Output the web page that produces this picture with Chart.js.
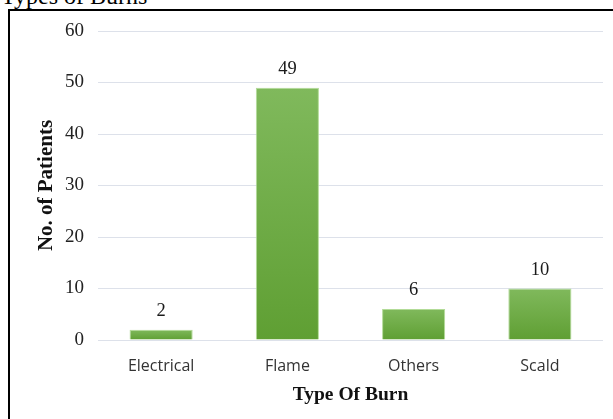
<!DOCTYPE html>
<html>
<head>
<meta charset="utf-8">
<script src="https://cdn.jsdelivr.net/npm/chart.js@4.4.1/dist/chart.umd.min.js"></script>
<style>
  body { margin: 0; background: #fff; width: 613px; height: 419px; overflow: hidden; position: relative; }
  #caption { position: absolute; left: 1px; top: -17px; font: 24px "Liberation Serif", serif; color: #000; white-space: nowrap; }
  #frame { position: absolute; left: 8px; top: 9px; width: 700px; height: 500px; border: 2px solid #000; }
  #wrap { position: absolute; left: 0; top: 0; width: 613px; height: 419px; }
</style>
</head>
<body>
<div id="caption">Types of Burns</div>
<div id="frame"></div>
<div id="wrap"><canvas id="burnChart" width="613" height="419"></canvas></div>
<script>
// dati
const burnTypes = ["Electrical", "Flame", "Others", "Scald"];
const patients = [2, 49, 6, 10];
const yTicks = [0, 10, 20, 30, 40, 50, 60];

// etichette sopra le barre
const valueLabels = {
  id: "valueLabels",
  afterDatasetsDraw(chart) {
    const ctx = chart.ctx;
    const meta = chart.getDatasetMeta(0);
    ctx.save();
    ctx.font = '18.5px "Liberation Serif", serif';
    ctx.fillStyle = "#1a1a1a";
    ctx.textAlign = "center";
    ctx.textBaseline = "alphabetic";
    meta.data.forEach((bar, i) => {
      ctx.fillText(String(patients[i]), bar.x, bar.y - 14);
    });
    ctx.restore();
  },
};

const ctx = document.getElementById("burnChart").getContext("2d");

new Chart(ctx, {
  type: "bar",
  data: {
    labels: burnTypes,
    datasets: [
      {
        data: patients,
        backgroundColor: function (c) {
          const chart = c.chart;
          const y = chart.scales && chart.scales.y;
          if (!y || c.dataIndex === undefined) return "#6dad45";
          const top = y.getPixelForValue(patients[c.dataIndex]);
          const base = y.getPixelForValue(0);
          if (!isFinite(top) || !isFinite(base) || top === base) return "#6dad45";
          const g = chart.ctx.createLinearGradient(0, top, 0, base);
          g.addColorStop(0, "#80b95c");
          g.addColorStop(1, "#5f9f33");
          return g;
        },
        borderColor: "rgba(170, 215, 140, 0.9)",
        borderWidth: 1,
        borderSkipped: "bottom",
        categoryPercentage: 1,
        barPercentage: 0.5,
      },
    ],
  },
  options: {
    responsive: false,
    animation: false,
    maintainAspectRatio: false,
    layout: { padding: { left: 0, right: 10, top: 31, bottom: 0 } },
    plugins: {
      legend: { display: false },
      tooltip: { enabled: false },
    },
    scales: {
      x: {
        grid: { display: false, drawTicks: false },
        border: { display: false },
        ticks: {
          color: "#333",
          padding: 17,
          font: { family: "'Open Sans', sans-serif", size: 16 },
        },
        title: {
          display: true,
          text: "Type Of Burn",
          color: "#111",
          font: { family: "'Liberation Serif', serif", size: 19.5, weight: "bold" },
          padding: { top: 0, bottom: 12 },
        },
        afterFit(scale) {
          scale.height = 79;
        },
      },
      y: {
        min: 0,
        max: 60,
        afterBuildTicks(scale) {
          scale.ticks = yTicks.map((v) => ({ value: v }));
        },
        grid: { color: "#dde1ea", lineWidth: 1, drawTicks: false },
        border: { display: false },
        ticks: {
          color: "#222",
          padding: 14,
          font: { family: "'Liberation Serif', serif", size: 19 },
        },
        title: {
          display: true,
          text: "No. of Patients",
          color: "#111",
          font: { family: "'Liberation Serif', serif", size: 21, weight: "bold" },
          padding: { top: 34, bottom: 0 },
        },
        afterFit(scale) {
          scale.width = 98;
        },
      },
    },
  },
  plugins: [valueLabels],
});
</script>
</body>
</html>
